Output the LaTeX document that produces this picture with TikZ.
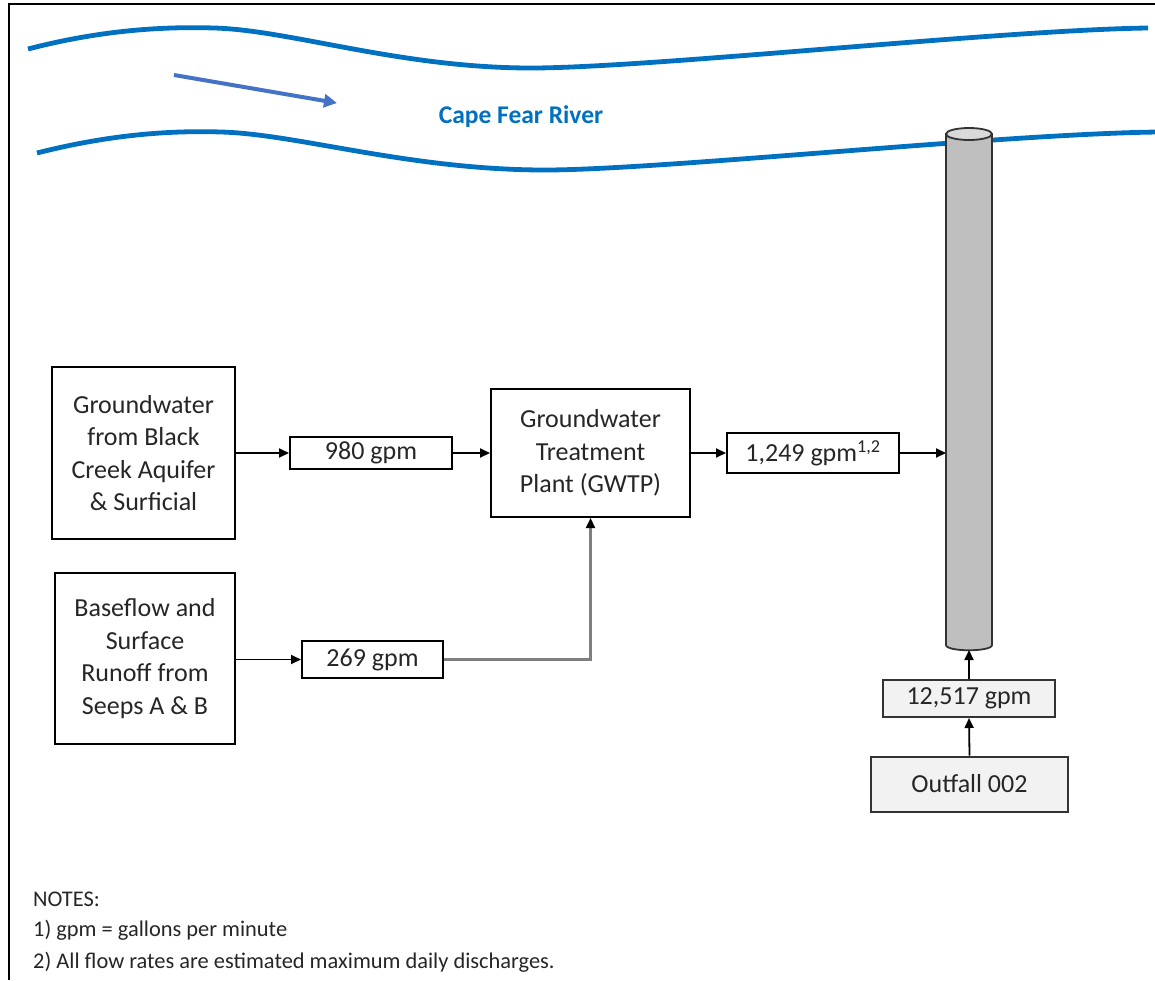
\documentclass[tikz,border=0pt]{standalone}
\usepackage{fontspec}
\setmainfont{Carlito}
\usetikzlibrary{arrows.meta}
\definecolor{river}{HTML}{0070C0}
\definecolor{flowarrow}{HTML}{4472C4}
\definecolor{txt}{HTML}{262626}
\definecolor{boxgray}{HTML}{F2F2F2}
\definecolor{cylfill}{HTML}{BFBFBF}
\definecolor{cyltop}{HTML}{D9D9D9}
\definecolor{cylline}{HTML}{333333}
\definecolor{linkgray}{HTML}{7F7F7F}
\begin{document}
\begin{tikzpicture}[x=1pt,y=-1pt,
  box/.style={draw=black, line width=2pt, fill=white, text=txt, align=center, inner sep=0pt,
    font=\fontsize{26}{32.5}\selectfont},
  graybox/.style={box, draw=cylline, fill=boxgray},
  tip/.style={-{Triangle[length=10pt,width=9pt]}},
  link/.style={draw=black, line width=1.8pt, tip},
  graylink/.style={draw=linkgray, line width=2.2pt, -{Triangle[length=10pt,width=9pt,color=black]}},
  riverline/.style={draw=river, line width=4.8pt},
  note/.style={anchor=base west, inner sep=0pt, text=txt, font=\fontsize{22.4}{26}\selectfont}
]
\useasboundingbox (0,0) rectangle (1155,980);
% frame
\draw[line width=2.2pt, black] (1155,4) -- (9,4) -- (9,980);

% river banks
\draw[riverline] (28,49) .. controls (90,33) and (150,26) .. (214,28)
  .. controls (290,30) and (400,68) .. (531,68)
  .. controls (650,68) and (1000,30) .. (1148,28);
\draw[riverline] (37,153) .. controls (100,137) and (160,130) .. (221,132)
  .. controls (297,134) and (410,170) .. (545,170)
  .. controls (660,170) and (1000,134) .. (1158,132);
% flow direction
\coordinate (fa) at (174,75);
\coordinate (fb) at (337,103);
\draw[flowarrow, line width=4pt, -{Triangle[length=13pt,width=13pt]}] (fa) -- (fb);
\node[text=river, font=\fontsize{25.5}{30}\bfseries] (river) at (521,117) {Cape Fear River};

% outfall pipe (cylinder)
\draw[cylline, line width=1.8pt, fill=cylfill] (946,134) -- (946,645)
  .. controls (946,652) and (992,652) .. (992,645) -- (992,134) -- cycle;
\draw[cylline, line width=1.8pt, fill=cyltop] (969,134) ellipse [x radius=23, y radius=6];
\coordinate (cylL) at (946,453);
\coordinate (cylB) at (969,650);

% boxes
\node[box, minimum width=183pt, minimum height=172pt] (src1) at (143.5,453)
  {Groundwater\\from Black\\Creek Aquifer\\\& Surficial};
\node[box, minimum width=180pt, minimum height=171pt] (src2) at (145,658.5)
  {Baseflow and\\Surface\\Runoff from\\Seeps A \& B};
\node[box, minimum width=162pt, minimum height=32pt] (f980) at (371,453) {980 gpm};
\node[box, minimum width=141pt, minimum height=37pt] (f269) at (372.5,659.5) {269 gpm};
\node[box, minimum width=199pt, minimum height=128pt] (gwtp) at (590.5,453)
  {Groundwater\\Treatment\\Plant (GWTP)};
\node[box, minimum width=172pt, minimum height=40pt] (f1249) at (813,453)
  {1,249 gpm\textsuperscript{1,2}};
\node[graybox, minimum width=172pt, minimum height=37pt] (f12517) at (969,698.5) {12,517 gpm};
\node[graybox, minimum width=197pt, minimum height=55pt] (out) at (969.5,784) {Outfall 002};

% connectors
\draw[link] (src1.east) -- (f980.west);
\draw[link] (f980.east) -- (gwtp.west);
\draw[link] (f269.west -| src2.east) -- (f269.west);
\draw[graylink] (f269.east) -| (gwtp.south);
\draw[link] (gwtp.east) -- (f1249.west);
\draw[link] (f1249.east) -- (cylL);
\draw[link] (out.north) -- (f12517.south);
\draw[link] (f12517.north) -- (cylB);

% notes
\node[note] (n0) at (33,906) {NOTES:};
\node[note] (n1) at (33,936) {1) gpm = gallons per minute};
\node[note] (n2) at (33,968) {2) All flow rates are estimated maximum daily discharges.};
\end{tikzpicture}
\end{document}
